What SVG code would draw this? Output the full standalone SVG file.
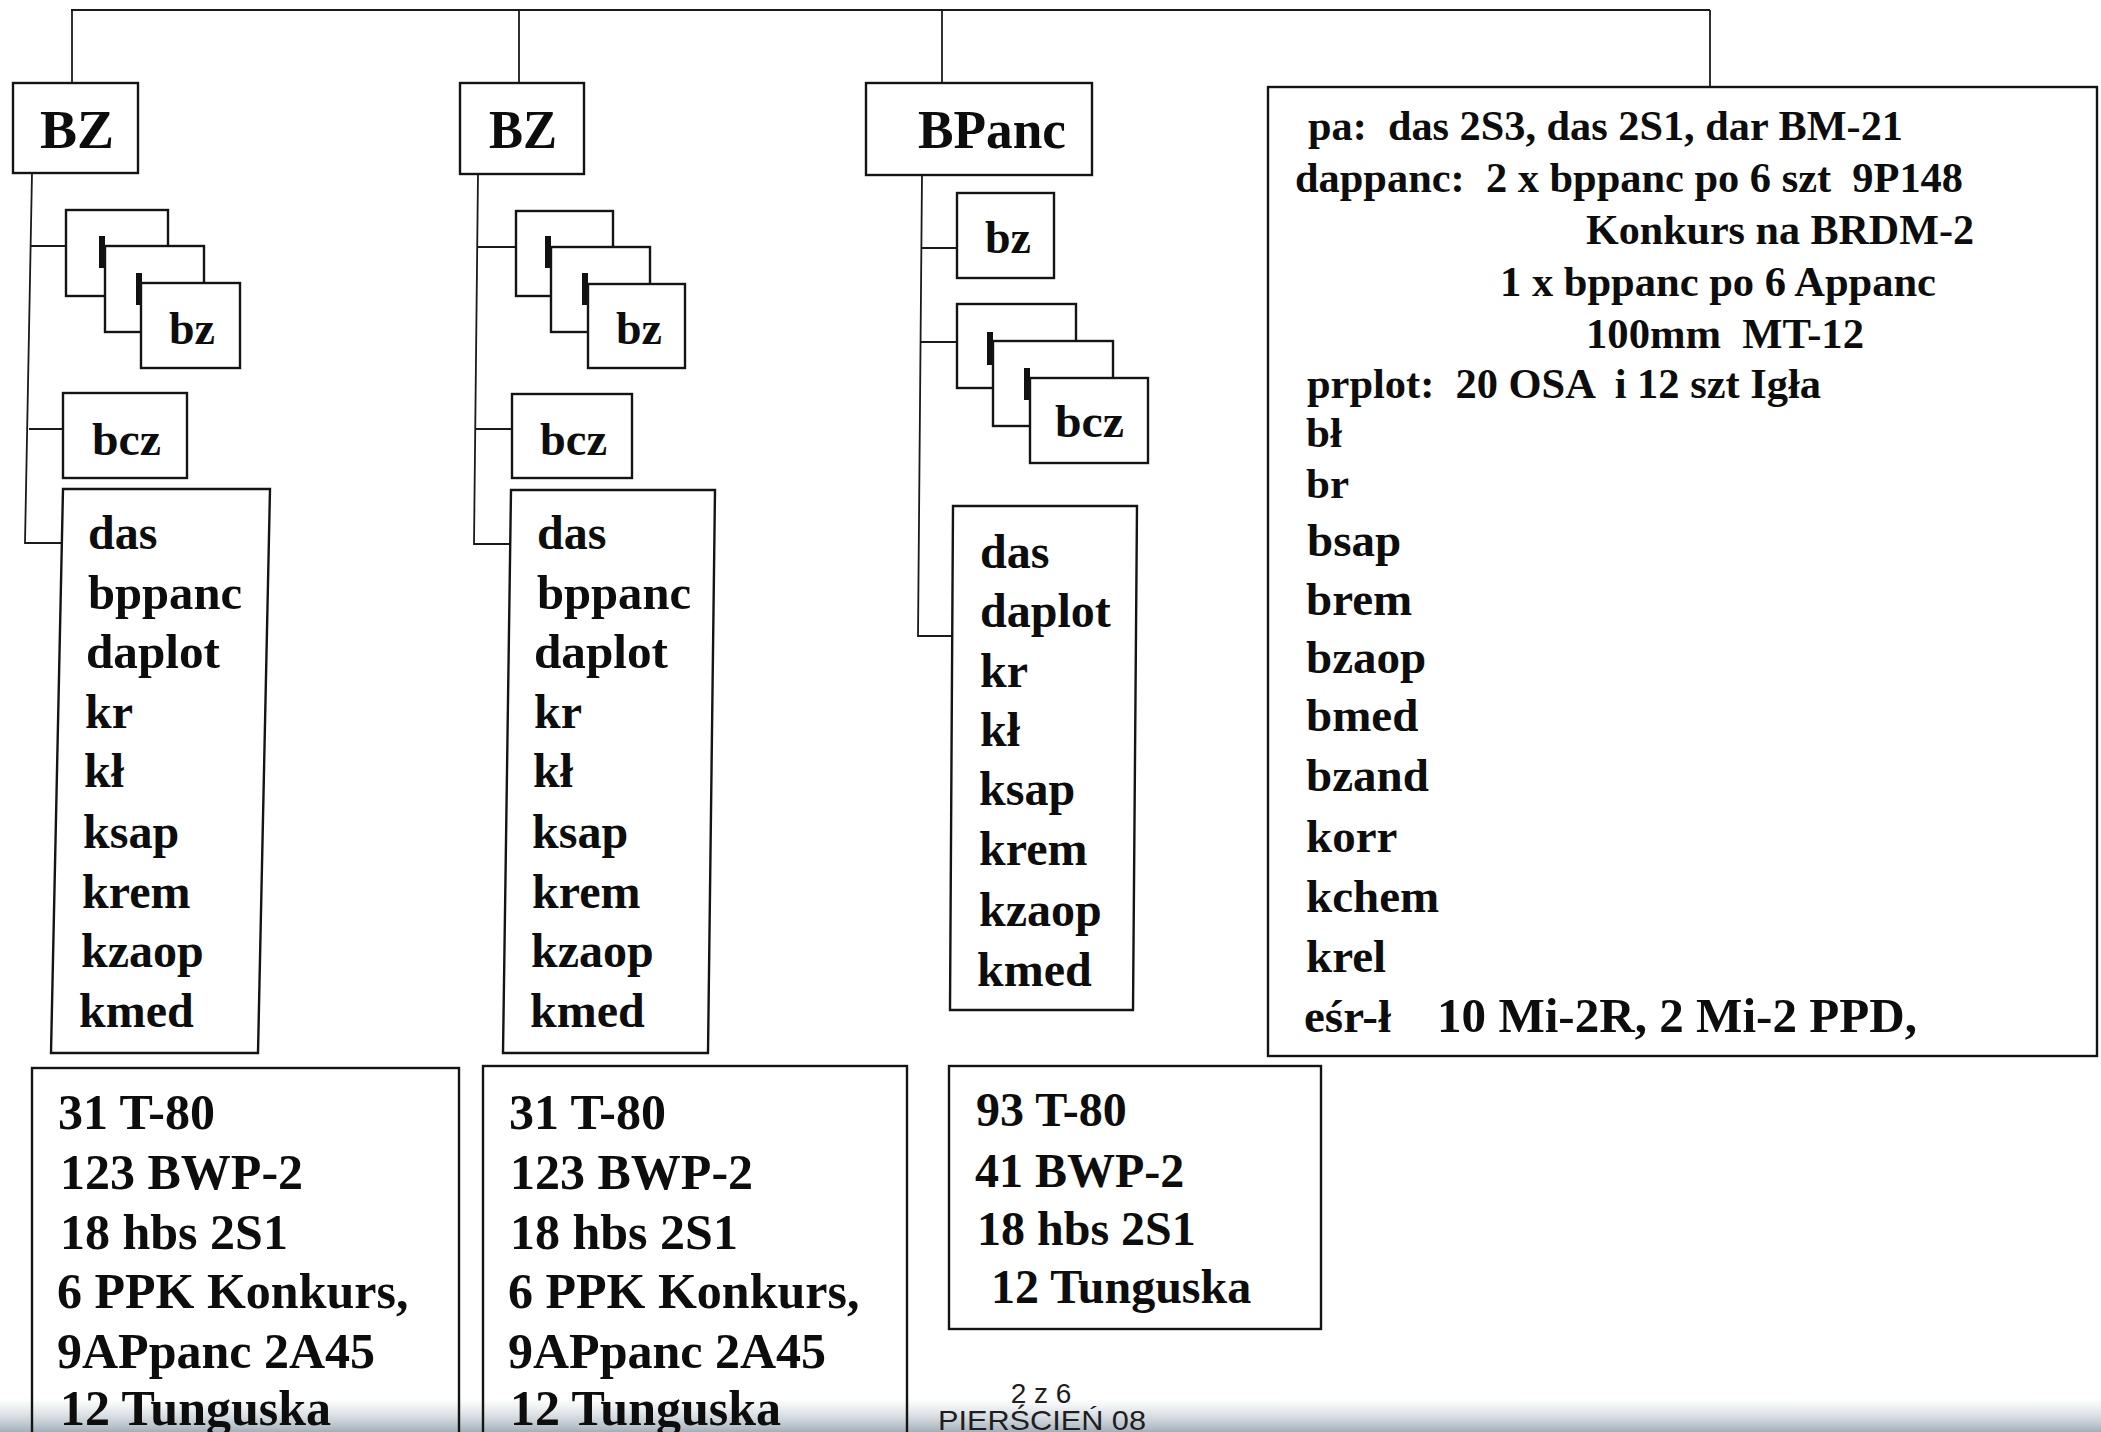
<svg xmlns="http://www.w3.org/2000/svg" width="2101" height="1432" viewBox="0 0 2101 1432">
<defs>
<style>
.box{fill:#fff;stroke:#141414;stroke-width:2.4}
.open{fill:none}
.con{fill:none;stroke:#1a1a1a;stroke-width:1.8}
.t{font-family:"Liberation Serif","Times New Roman",serif;font-weight:bold;fill:#0d0d0d;white-space:pre}
.big{font-size:55px}
.lbl{font-size:46px}
.lst{font-size:48px}
.rs{font-size:43px}
.rl{font-size:47px}
.bt{font-size:50px}
.bt3{font-size:48px}
.ft{font-family:"Liberation Sans",Arial,sans-serif;font-size:28px;fill:#1e1e1e}
.mark{fill:#111}
</style>
<linearGradient id="band" x1="0" y1="0" x2="0" y2="1">
<stop offset="0" stop-color="#c5cfd6" stop-opacity="0"/>
<stop offset="1" stop-color="#98a6b1" stop-opacity="0.9"/>
</linearGradient>
</defs>
<rect width="2101" height="1432" fill="#fff"/>
<rect x="0" y="1398" width="2101" height="34" fill="url(#band)"/>

<g id="connectors" class="con">
<path d="M71 10 H1710"/>
<path d="M72 10 V83"/>
<path d="M519 10 V83"/>
<path d="M942 10 V83"/>
<path d="M1710 10 V87"/>
<path d="M32 173 L25 543 H62"/>
<path d="M31 246 H66"/>
<path d="M29 429 H63"/>
<path d="M478 174 L474 544 H510"/>
<path d="M477 247 H516"/>
<path d="M476 429 H512"/>
<path d="M922 175 L918 636 H953"/>
<path d="M921 248 H957"/>
<path d="M920 342 H957"/>
</g>

<g id="bz1">
<rect class="box" x="13" y="83" width="125" height="90"/>
<text class="t big" x="40" y="148" textLength="74" lengthAdjust="spacingAndGlyphs">BZ</text>
</g>
<g id="bz2">
<rect class="box" x="460" y="83" width="124" height="91"/>
<text class="t big" x="489" y="148" textLength="68" lengthAdjust="spacingAndGlyphs">BZ</text>
</g>
<g id="bpanc">
<rect class="box" x="866" y="83" width="226" height="92"/>
<text class="t big" x="918" y="148" textLength="148" lengthAdjust="spacingAndGlyphs">BPanc</text>
</g>

<g id="bz1-stack">
<rect class="box" x="66" y="210" width="102" height="86"/>
<rect class="mark" x="99" y="236" width="6" height="32"/>
<rect class="box" x="105" y="246" width="99" height="86"/>
<rect class="mark" x="136" y="273" width="6" height="32"/>
<rect class="box" x="141" y="283" width="99" height="85"/>
<text class="t lbl" x="169" y="344">bz</text>
</g>
<g id="bz1-bcz">
<rect class="box" x="63" y="393" width="124" height="85"/>
<text class="t lbl" x="92" y="455" textLength="69" lengthAdjust="spacingAndGlyphs">bcz</text>
</g>
<g id="bz1-list">
<path class="box" d="M63 489 H270 L258 1053 H51 Z"/>
<text class="t lst" x="88" y="549">das</text>
<text class="t lst" x="88" y="609" textLength="154" lengthAdjust="spacingAndGlyphs">bppanc</text>
<text class="t lst" x="86" y="668" textLength="134" lengthAdjust="spacingAndGlyphs">daplot</text>
<text class="t lst" x="85" y="728">kr</text>
<text class="t lst" x="84" y="787">kł</text>
<text class="t lst" x="83" y="848">ksap</text>
<text class="t lst" x="82" y="908">krem</text>
<text class="t lst" x="81" y="967">kzaop</text>
<text class="t lst" x="79" y="1027">kmed</text>
</g>

<g id="bz2-stack">
<rect class="box" x="516" y="211" width="97" height="85"/>
<rect class="mark" x="545" y="236" width="6" height="32"/>
<rect class="box" x="551" y="247" width="99" height="85"/>
<rect class="mark" x="582" y="273" width="6" height="32"/>
<rect class="box" x="588" y="284" width="97" height="84"/>
<text class="t lbl" x="616" y="344">bz</text>
</g>
<g id="bz2-bcz">
<rect class="box" x="512" y="394" width="120" height="84"/>
<text class="t lbl" x="540" y="455" textLength="67" lengthAdjust="spacingAndGlyphs">bcz</text>
</g>
<g id="bz2-list">
<path class="box" d="M511 490 H715 L708 1053 H503 Z"/>
<text class="t lst" x="537" y="549">das</text>
<text class="t lst" x="537" y="609" textLength="154" lengthAdjust="spacingAndGlyphs">bppanc</text>
<text class="t lst" x="534" y="668" textLength="134" lengthAdjust="spacingAndGlyphs">daplot</text>
<text class="t lst" x="534" y="728">kr</text>
<text class="t lst" x="533" y="787">kł</text>
<text class="t lst" x="532" y="848">ksap</text>
<text class="t lst" x="532" y="908">krem</text>
<text class="t lst" x="531" y="967">kzaop</text>
<text class="t lst" x="530" y="1027">kmed</text>
</g>

<g id="bp-bz">
<rect class="box" x="957" y="193" width="97" height="85"/>
<text class="t lbl" x="985" y="253">bz</text>
</g>
<g id="bp-stack">
<rect class="box" x="957" y="304" width="119" height="84"/>
<rect class="mark" x="987" y="332" width="6" height="33"/>
<rect class="box" x="993" y="341" width="120" height="85"/>
<rect class="mark" x="1024" y="368" width="6" height="32"/>
<rect class="box" x="1030" y="378" width="118" height="85"/>
<text class="t lbl" x="1055" y="437" textLength="69" lengthAdjust="spacingAndGlyphs">bcz</text>
</g>
<g id="bp-list">
<path class="box" d="M953 506 H1137 L1133 1010 H950 Z"/>
<text class="t lst" x="980" y="568">das</text>
<text class="t lst" x="980" y="627">daplot</text>
<text class="t lst" x="980" y="687">kr</text>
<text class="t lst" x="980" y="746">kł</text>
<text class="t lst" x="979" y="805">ksap</text>
<text class="t lst" x="979" y="865">krem</text>
<text class="t lst" x="979" y="926">kzaop</text>
<text class="t lst" x="977" y="986">kmed</text>
</g>

<g id="support">
<rect class="box" x="1268" y="87" width="829" height="969"/>
<text class="t rs" x="1308" y="140" textLength="595" lengthAdjust="spacingAndGlyphs" xml:space="preserve">pa:  das 2S3, das 2S1, dar BM-21</text>
<text class="t rs" x="1295" y="192" textLength="668" lengthAdjust="spacingAndGlyphs" xml:space="preserve">dappanc:  2 x bppanc po 6 szt  9P148</text>
<text class="t rs" x="1586" y="244" textLength="388" lengthAdjust="spacingAndGlyphs">Konkurs na BRDM-2</text>
<text class="t rs" x="1500" y="296" textLength="436" lengthAdjust="spacingAndGlyphs">1 x bppanc po 6 Appanc</text>
<text class="t rs" x="1586" y="348" textLength="278" lengthAdjust="spacingAndGlyphs" xml:space="preserve">100mm  MT-12</text>
<text class="t rs" x="1307" y="398" textLength="514" lengthAdjust="spacingAndGlyphs" xml:space="preserve">prplot:  20 OSA  i 12 szt Igła</text>
<text class="t rs" x="1306" y="447">bł</text>
<text class="t rs" x="1306" y="498">br</text>
<text class="t rl" x="1307" y="556">bsap</text>
<text class="t rl" x="1306" y="615">brem</text>
<text class="t rl" x="1306" y="673">bzaop</text>
<text class="t rl" x="1306" y="731">bmed</text>
<text class="t rl" x="1306" y="791">bzand</text>
<text class="t rl" x="1306" y="852">korr</text>
<text class="t rl" x="1306" y="912">kchem</text>
<text class="t rl" x="1306" y="972">krel</text>
<text class="t rl" x="1304" y="1032">eśr-ł</text>
<text class="t" x="1437" y="1032" font-size="49" textLength="480" lengthAdjust="spacingAndGlyphs">10 Mi-2R, 2 Mi-2 PPD,</text>
</g>

<g id="bz1-equip">
<rect class="box open" x="32" y="1068" width="427" height="420"/>
<text class="t bt" x="58" y="1129">31 T-80</text>
<text class="t bt" x="60" y="1189">123 BWP-2</text>
<text class="t bt" x="60" y="1249">18 hbs 2S1</text>
<text class="t bt" x="57" y="1308">6 PPK Konkurs,</text>
<text class="t bt" x="57" y="1368">9APpanc 2A45</text>
<text class="t bt" x="60" y="1425">12 Tunguska</text>
</g>
<g id="bz2-equip">
<rect class="box open" x="483" y="1066" width="424" height="420"/>
<text class="t bt" x="509" y="1129">31 T-80</text>
<text class="t bt" x="510" y="1189">123 BWP-2</text>
<text class="t bt" x="510" y="1249">18 hbs 2S1</text>
<text class="t bt" x="508" y="1308">6 PPK Konkurs,</text>
<text class="t bt" x="508" y="1368">9APpanc 2A45</text>
<text class="t bt" x="510" y="1425">12 Tunguska</text>
</g>
<g id="bp-equip">
<rect class="box" x="949" y="1066" width="372" height="263"/>
<text class="t bt3" x="976" y="1126">93 T-80</text>
<text class="t bt3" x="975" y="1187">41 BWP-2</text>
<text class="t bt3" x="977" y="1245">18 hbs 2S1</text>
<text class="t bt3" x="991" y="1303">12 Tunguska</text>
</g>

<g id="footer">
<text class="ft" x="1041" y="1403" text-anchor="middle" xml:space="preserve">2 z 6</text>
<text class="ft" x="938" y="1430" textLength="208" lengthAdjust="spacingAndGlyphs">PIERŚCIEŃ 08</text>
</g>
</svg>
